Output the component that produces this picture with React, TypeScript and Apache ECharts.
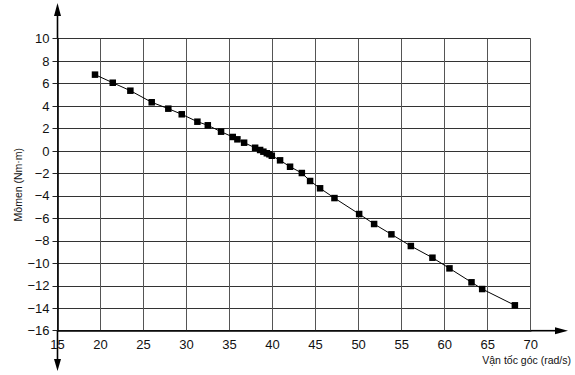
import React, { useEffect, useRef } from "react";
import * as echarts from "echarts";

const speed = [19.36, 21.42, 23.47, 25.95, 27.88, 29.44, 31.26, 32.47, 34.01, 35.37, 35.91, 36.69, 37.97, 38.55, 38.93, 39.33, 39.63, 39.91, 40.87, 42.03, 43.4, 44.36, 45.52, 47.19, 50.06, 51.8, 53.81, 56.07, 58.58, 60.56, 63.12, 64.36, 68.16];
const torque = [6.8, 6.08, 5.37, 4.34, 3.77, 3.27, 2.61, 2.29, 1.72, 1.25, 1.04, 0.74, 0.29, 0.09, -0.06, -0.2, -0.29, -0.42, -0.83, -1.4, -1.96, -2.67, -3.32, -4.19, -5.61, -6.5, -7.42, -8.46, -9.5, -10.45, -11.69, -12.29, -13.74];

const xMin = 15, xMax = 70, xStep = 5;
const yMin = -16, yMax = 10, yStep = 2;
const xName = "Vận tốc góc (rad/s)";
const yName = "Mômen (Nm·m)";

const FONT = "'Liberation Sans', Arial, Helvetica, sans-serif";

export default function App() {
  const ref = useRef<HTMLDivElement>(null);
  useEffect(() => {
    document.body.style.margin = "0";
    const chart = echarts.init(ref.current!, undefined, { renderer: "svg" });
    const L = 57.5, T = 38.7, R = 575 - 44.3, B = 375 - 44.3;
    chart.setOption({
      animation: false,
      backgroundColor: "#ffffff",
      grid: { left: L, right: 575 - R, top: T, bottom: 375 - B, containLabel: false },
      xAxis: {
        type: "value",
        min: xMin,
        max: xMax,
        interval: xStep,
        axisLine: { show: true, onZero: false, lineStyle: { color: "#000", width: 1.6 } },
        axisTick: { show: false },
        axisLabel: { color: "#111", fontSize: 13, fontFamily: FONT, margin: 7 },
        splitLine: { show: true, lineStyle: { color: "#555", width: 1 } },
      },
      yAxis: {
        type: "value",
        min: yMin,
        max: yMax,
        interval: yStep,
        axisLine: { show: true, onZero: false, lineStyle: { color: "#000", width: 1.6 } },
        axisTick: { show: true, length: 5, lineStyle: { color: "#222", width: 1 } },
        axisLabel: {
          color: "#111",
          fontSize: 13,
          fontFamily: FONT,
          margin: 8,
          formatter: (v: number) => (v < 0 ? "\u2212" + Math.abs(v) : String(v)),
        },
        splitLine: { show: true, lineStyle: { color: "#333", width: 1 } },
      },
      graphic: [
        { type: "line", shape: { x1: L, y1: 14, x2: L, y2: T }, style: { stroke: "#000", lineWidth: 1.6 } },
        { type: "polygon", shape: { points: [[L, 3], [L - 3.5, 16], [L + 3.5, 16]] }, style: { fill: "#000" } },
        { type: "line", shape: { x1: L, y1: B, x2: L, y2: 362 }, style: { stroke: "#000", lineWidth: 1.6 } },
        { type: "polygon", shape: { points: [[L, 371], [L - 3.5, 359], [L + 3.5, 359]] }, style: { fill: "#000" } },
        { type: "line", shape: { x1: R, y1: B, x2: 557, y2: B }, style: { stroke: "#000", lineWidth: 1.6 } },
        { type: "polygon", shape: { points: [[568, B], [555, B - 3.5], [555, B + 3.5]] }, style: { fill: "#000" } },
        {
          type: "text",
          x: 571,
          y: 360,
          style: { text: xName, fill: "#111", font: `10.5px ${FONT}`, align: "right", verticalAlign: "middle" },
        },
        {
          type: "text",
          x: 18,
          y: (T + B) / 2,
          rotation: Math.PI / 2,
          style: { text: yName, fill: "#111", font: `10.5px ${FONT}`, align: "center", verticalAlign: "middle" },
        },
      ],
      series: [
        {
          type: "line",
          data: speed.map((s, i) => [s, torque[i]]),
          symbol: "rect",
          symbolSize: 6.5,
          lineStyle: { color: "#000", width: 1 },
          itemStyle: { color: "#000" },
        },
      ],
    });
    return () => chart.dispose();
  }, []);
  return <div ref={ref} style={{ width: 575, height: 375 }} />;
}
